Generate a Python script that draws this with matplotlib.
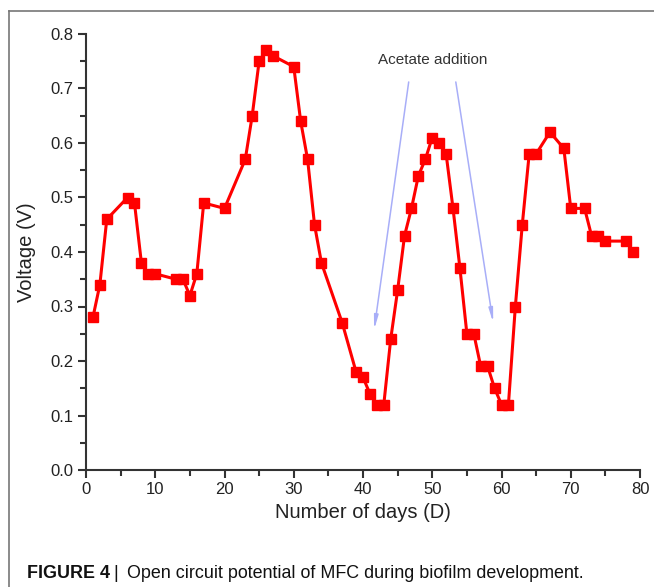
import matplotlib
matplotlib.use("Agg")
import matplotlib.pyplot as plt
from matplotlib.lines import Line2D
from matplotlib.ticker import MultipleLocator, FormatStrFormatter

plt.rcParams['font.family'] = ['Liberation Sans', 'DejaVu Sans']

# open circuit voltage readings
days = [1, 2, 3, 6, 7, 8, 9, 10, 13, 14, 15, 16, 17, 20, 23, 24, 25, 26, 27, 30,
        31, 32, 33, 34, 37, 39, 40, 41, 42, 43, 44, 45, 46, 47, 48, 49, 50, 51, 52, 53,
        54, 55, 56, 57, 58, 59, 60, 61, 62, 63, 64, 65, 67, 69, 70, 72, 73, 74, 75, 78, 79]
voltage = [0.28, 0.34, 0.46, 0.50, 0.49, 0.38, 0.36, 0.36, 0.35, 0.35, 0.32, 0.36, 0.49, 0.48, 0.57, 0.65, 0.75, 0.77, 0.76, 0.74,
           0.64, 0.57, 0.45, 0.38, 0.27, 0.18, 0.17, 0.14, 0.12, 0.12, 0.24, 0.33, 0.43, 0.48, 0.54, 0.57, 0.61, 0.60, 0.58, 0.48,
           0.37, 0.25, 0.25, 0.19, 0.19, 0.15, 0.12, 0.12, 0.30, 0.45, 0.58, 0.58, 0.62, 0.59, 0.48, 0.48, 0.43, 0.43, 0.42, 0.42, 0.40]

# annotation: arrow start / tip in data units
arrow_starts = [(46.6, 0.712), (53.4, 0.712)]
arrow_tips = [(41.6, 0.257), (58.8, 0.27)]
note_text = "Acetate addition"
note_pos = (50.0, 0.752)

W, H = 654, 587
fig = plt.figure(figsize=(W / 100, H / 100), dpi=100)

# outer frame (left and top)
gray = '#777777'
fig.add_artist(Line2D([9 / W, 9 / W], [0, 1 - 11 / H], color=gray, lw=1.2, transform=fig.transFigure))
fig.add_artist(Line2D([9 / W, 1], [1 - 11 / H, 1 - 11 / H], color=gray, lw=1.2, transform=fig.transFigure))

ax = fig.add_axes([86 / W, 1 - 470 / H, (640 - 86) / W, (470 - 34) / H])
ax.plot(days, voltage, color='#ff0000', lw=2.2, marker='s', markersize=6.5,
        markeredgecolor='#ff0000', markerfacecolor='#ff0000', clip_on=False)

for (x0, y0), (x1, y1) in zip(arrow_starts, arrow_tips):
    ax.annotate('', xy=(x1, y1), xytext=(x0, y0),
                arrowprops=dict(arrowstyle='-|>,head_length=0.8,head_width=0.12',
                                color='#a8aef8', lw=1.1, shrinkA=0, shrinkB=0))
ax.text(note_pos[0], note_pos[1], note_text, ha='center', va='center',
        fontsize=11, color='#333333')

ax.set_xlim(0, 80)
ax.set_ylim(0, 0.8)
ax.xaxis.set_major_locator(MultipleLocator(10))
ax.xaxis.set_minor_locator(MultipleLocator(5))
ax.yaxis.set_major_locator(MultipleLocator(0.1))
ax.yaxis.set_minor_locator(MultipleLocator(0.05))
ax.yaxis.set_major_formatter(FormatStrFormatter('%.1f'))

for s in ['top', 'right']:
    ax.spines[s].set_visible(False)
for s in ['left', 'bottom']:
    ax.spines[s].set_color('#333333')
    ax.spines[s].set_linewidth(1.5)
ax.tick_params(which='major', length=6, width=1.5, color='#333333', labelsize=12,
               labelcolor='#222222', pad=3)
ax.tick_params(which='minor', length=4, width=1.5, color='#333333')

ax.set_xlabel("Number of days (D)", fontsize=14.5, color='#222222', labelpad=4)
ax.set_ylabel("Voltage (V)", fontsize=14.5, color='#222222', labelpad=10)

cap_y = 1 - 573 / H
fig.text(27 / W, cap_y, "FIGURE 4", fontsize=12.9, fontweight='bold',
         ha='left', va='center', color='#111111')
fig.text(116 / W, cap_y, "|", fontsize=12.9, ha='center', va='center', color='#111111')
fig.text(127 / W, cap_y, "Open circuit potential of MFC during biofilm development.",
         fontsize=12.9, ha='left', va='center', color='#111111')

fig.savefig("out.png", dpi=100, facecolor='white')
